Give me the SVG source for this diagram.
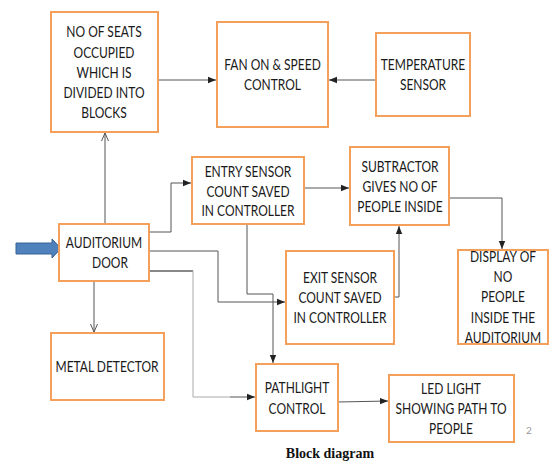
<svg xmlns="http://www.w3.org/2000/svg" width="553" height="473" viewBox="0 0 553 473">
<defs>
<style>
.box{fill:#fff;stroke:#f4a05a;stroke-width:2}
.t{font-family:Lato,"Liberation Sans",sans-serif;font-size:15px;fill:#1a1a1a;text-anchor:middle}
.c{fill:none;stroke:#555;stroke-width:1}
.cl{fill:none;stroke:#aaa;stroke-width:1}
.cb{fill:none;stroke:#111;stroke-width:1}
</style>
<marker id="a" viewBox="0 0 8 8" refX="8" refY="4" markerWidth="8" markerHeight="8" markerUnits="userSpaceOnUse" orient="auto">
<path d="M0,0.8 L8,4 L0,7.2 Z" fill="#222"/>
</marker>
<marker id="v" viewBox="0 0 8 8" refX="8" refY="4" markerWidth="8" markerHeight="8" markerUnits="userSpaceOnUse" orient="auto">
<path d="M0,0.5 L8,4 L0,7.5" fill="none" stroke="#555" stroke-width="1"/>
</marker>
</defs>
<rect width="553" height="473" fill="#fff"/>

<g id="connectors">
<line class="c" x1="158" y1="80" x2="216" y2="80" marker-end="url(#a)"/>
<line class="c" x1="376" y1="80" x2="329" y2="80" marker-end="url(#a)"/>
<polyline class="c" points="105,224 105,133" marker-end="url(#v)"/>
<polyline class="c" points="94,281 94,332" marker-end="url(#v)"/>
<polyline class="c" points="149,232 171,232 171,183 191,183" marker-end="url(#a)"/>
<line class="c" x1="304" y1="188" x2="349" y2="188" marker-end="url(#a)"/>
<polyline class="c" points="449,198 502,198 502,249" marker-end="url(#a)"/>
<polyline class="c" points="394,297 399,297 399,226" marker-end="url(#a)"/>
<polyline class="c" points="149,251 218,251 218,302 285,302" marker-end="url(#a)"/>
<polyline class="c" points="247,224 247,294 273,294 273,363" marker-end="url(#a)"/>
<polyline class="cb" points="149,271 193,271"/>
<polyline class="cl" points="193,271 193,397 230,397"/>
<polyline class="c" points="230,397 255,397" marker-end="url(#a)"/>
<line class="c" x1="338" y1="402" x2="388" y2="401" marker-end="url(#a)"/>
</g>

<g id="entry-arrow">
<path d="M16,243 L52,243 L52,239 L61,248.5 L52,258 L52,254 L16,254 Z" fill="#4f81bd" stroke="#3a6396" stroke-width="1"/>
</g>

<g id="seats">
<rect class="box" x="51" y="12" width="107" height="120"/>
<g transform="translate(104,0) scale(0.8,1)">
<text class="t" x="0" y="37.5">NO OF SEATS</text>
<text class="t" x="0" y="58">OCCUPIED</text>
<text class="t" x="0" y="78">WHICH IS</text>
<text class="t" x="0" y="98">DIVIDED INTO</text>
<text class="t" x="0" y="118">BLOCKS</text>
</g>
</g>

<g id="fan">
<rect class="box" x="217" y="22" width="111" height="105"/>
<g transform="translate(272.5,0) scale(0.8,1)">
<text class="t" x="0" y="70.5">FAN ON &amp; SPEED</text>
<text class="t" x="0" y="90.5">CONTROL</text>
</g>
</g>

<g id="temperature">
<rect class="box" x="376" y="33" width="94" height="83"/>
<g transform="translate(423,0) scale(0.8,1)">
<text class="t" x="0" y="70.5">TEMPERATURE</text>
<text class="t" x="0" y="90.5">SENSOR</text>
</g>
</g>

<g id="entry">
<rect class="box" x="192" y="157" width="112" height="67"/>
<g transform="translate(248,0) scale(0.8,1)">
<text class="t" x="0" y="177.5">ENTRY SENSOR</text>
<text class="t" x="0" y="197.5">COUNT SAVED</text>
<text class="t" x="0" y="216.5">IN CONTROLLER</text>
</g>
</g>

<g id="subtractor">
<rect class="box" x="350" y="147" width="99" height="78"/>
<g transform="translate(400,0) scale(0.8,1)">
<text class="t" x="0" y="172.5">SUBTRACTOR</text>
<text class="t" x="0" y="192.5">GIVES NO OF</text>
<text class="t" x="0" y="212.5">PEOPLE INSIDE</text>
</g>
</g>

<g id="exit">
<rect class="box" x="286" y="251" width="108" height="93"/>
<g transform="translate(340,0) scale(0.8,1)">
<text class="t" x="0" y="283.5">EXIT SENSOR</text>
<text class="t" x="0" y="303.5">COUNT SAVED</text>
<text class="t" x="0" y="323.5">IN CONTROLLER</text>
</g>
</g>

<g id="display">
<rect class="box" x="458" y="250" width="90" height="94"/>
<g transform="translate(503,0) scale(0.8,1)">
<text class="t" x="0" y="262.5">DISPLAY OF</text>
<text class="t" x="0" y="282.5">NO</text>
<text class="t" x="0" y="302.5">PEOPLE</text>
<text class="t" x="0" y="323.5">INSIDE THE</text>
<text class="t" x="0" y="343.5">AUDITORIUM</text>
</g>
</g>

<g id="door">
<rect class="box" x="59" y="224" width="90" height="57"/>
<g transform="translate(104,0) scale(0.8,1)">
<text class="t" x="0" y="248.5">AUDITORIUM</text>
<text class="t" x="7.5" y="268.5">DOOR</text>
</g>
</g>

<g id="metal">
<rect class="box" x="51" y="333" width="113" height="67"/>
<g transform="translate(107,0) scale(0.8,1)">
<text class="t" x="0" y="372.5">METAL DETECTOR</text>
</g>
</g>

<g id="pathlight">
<rect class="box" x="256" y="364" width="82" height="67"/>
<g transform="translate(297,0) scale(0.8,1)">
<text class="t" x="0" y="393.5">PATHLIGHT</text>
<text class="t" x="0" y="414.5">CONTROL</text>
</g>
</g>

<g id="led">
<rect class="box" x="389" y="375" width="125" height="67"/>
<g transform="translate(451,0) scale(0.8,1)">
<text class="t" x="0" y="394.5">LED LIGHT</text>
<text class="t" x="0" y="414.5">SHOWING PATH TO</text>
<text class="t" x="0" y="434.5">PEOPLE</text>
</g>
</g>

<text x="529" y="434" font-family="Lato,'Liberation Sans',sans-serif" font-size="10" fill="#999" text-anchor="middle">2</text>
<text x="330" y="458" font-family="'Liberation Serif',serif" font-size="14" font-weight="bold" fill="#111" text-anchor="middle">Block diagram</text>
</svg>
